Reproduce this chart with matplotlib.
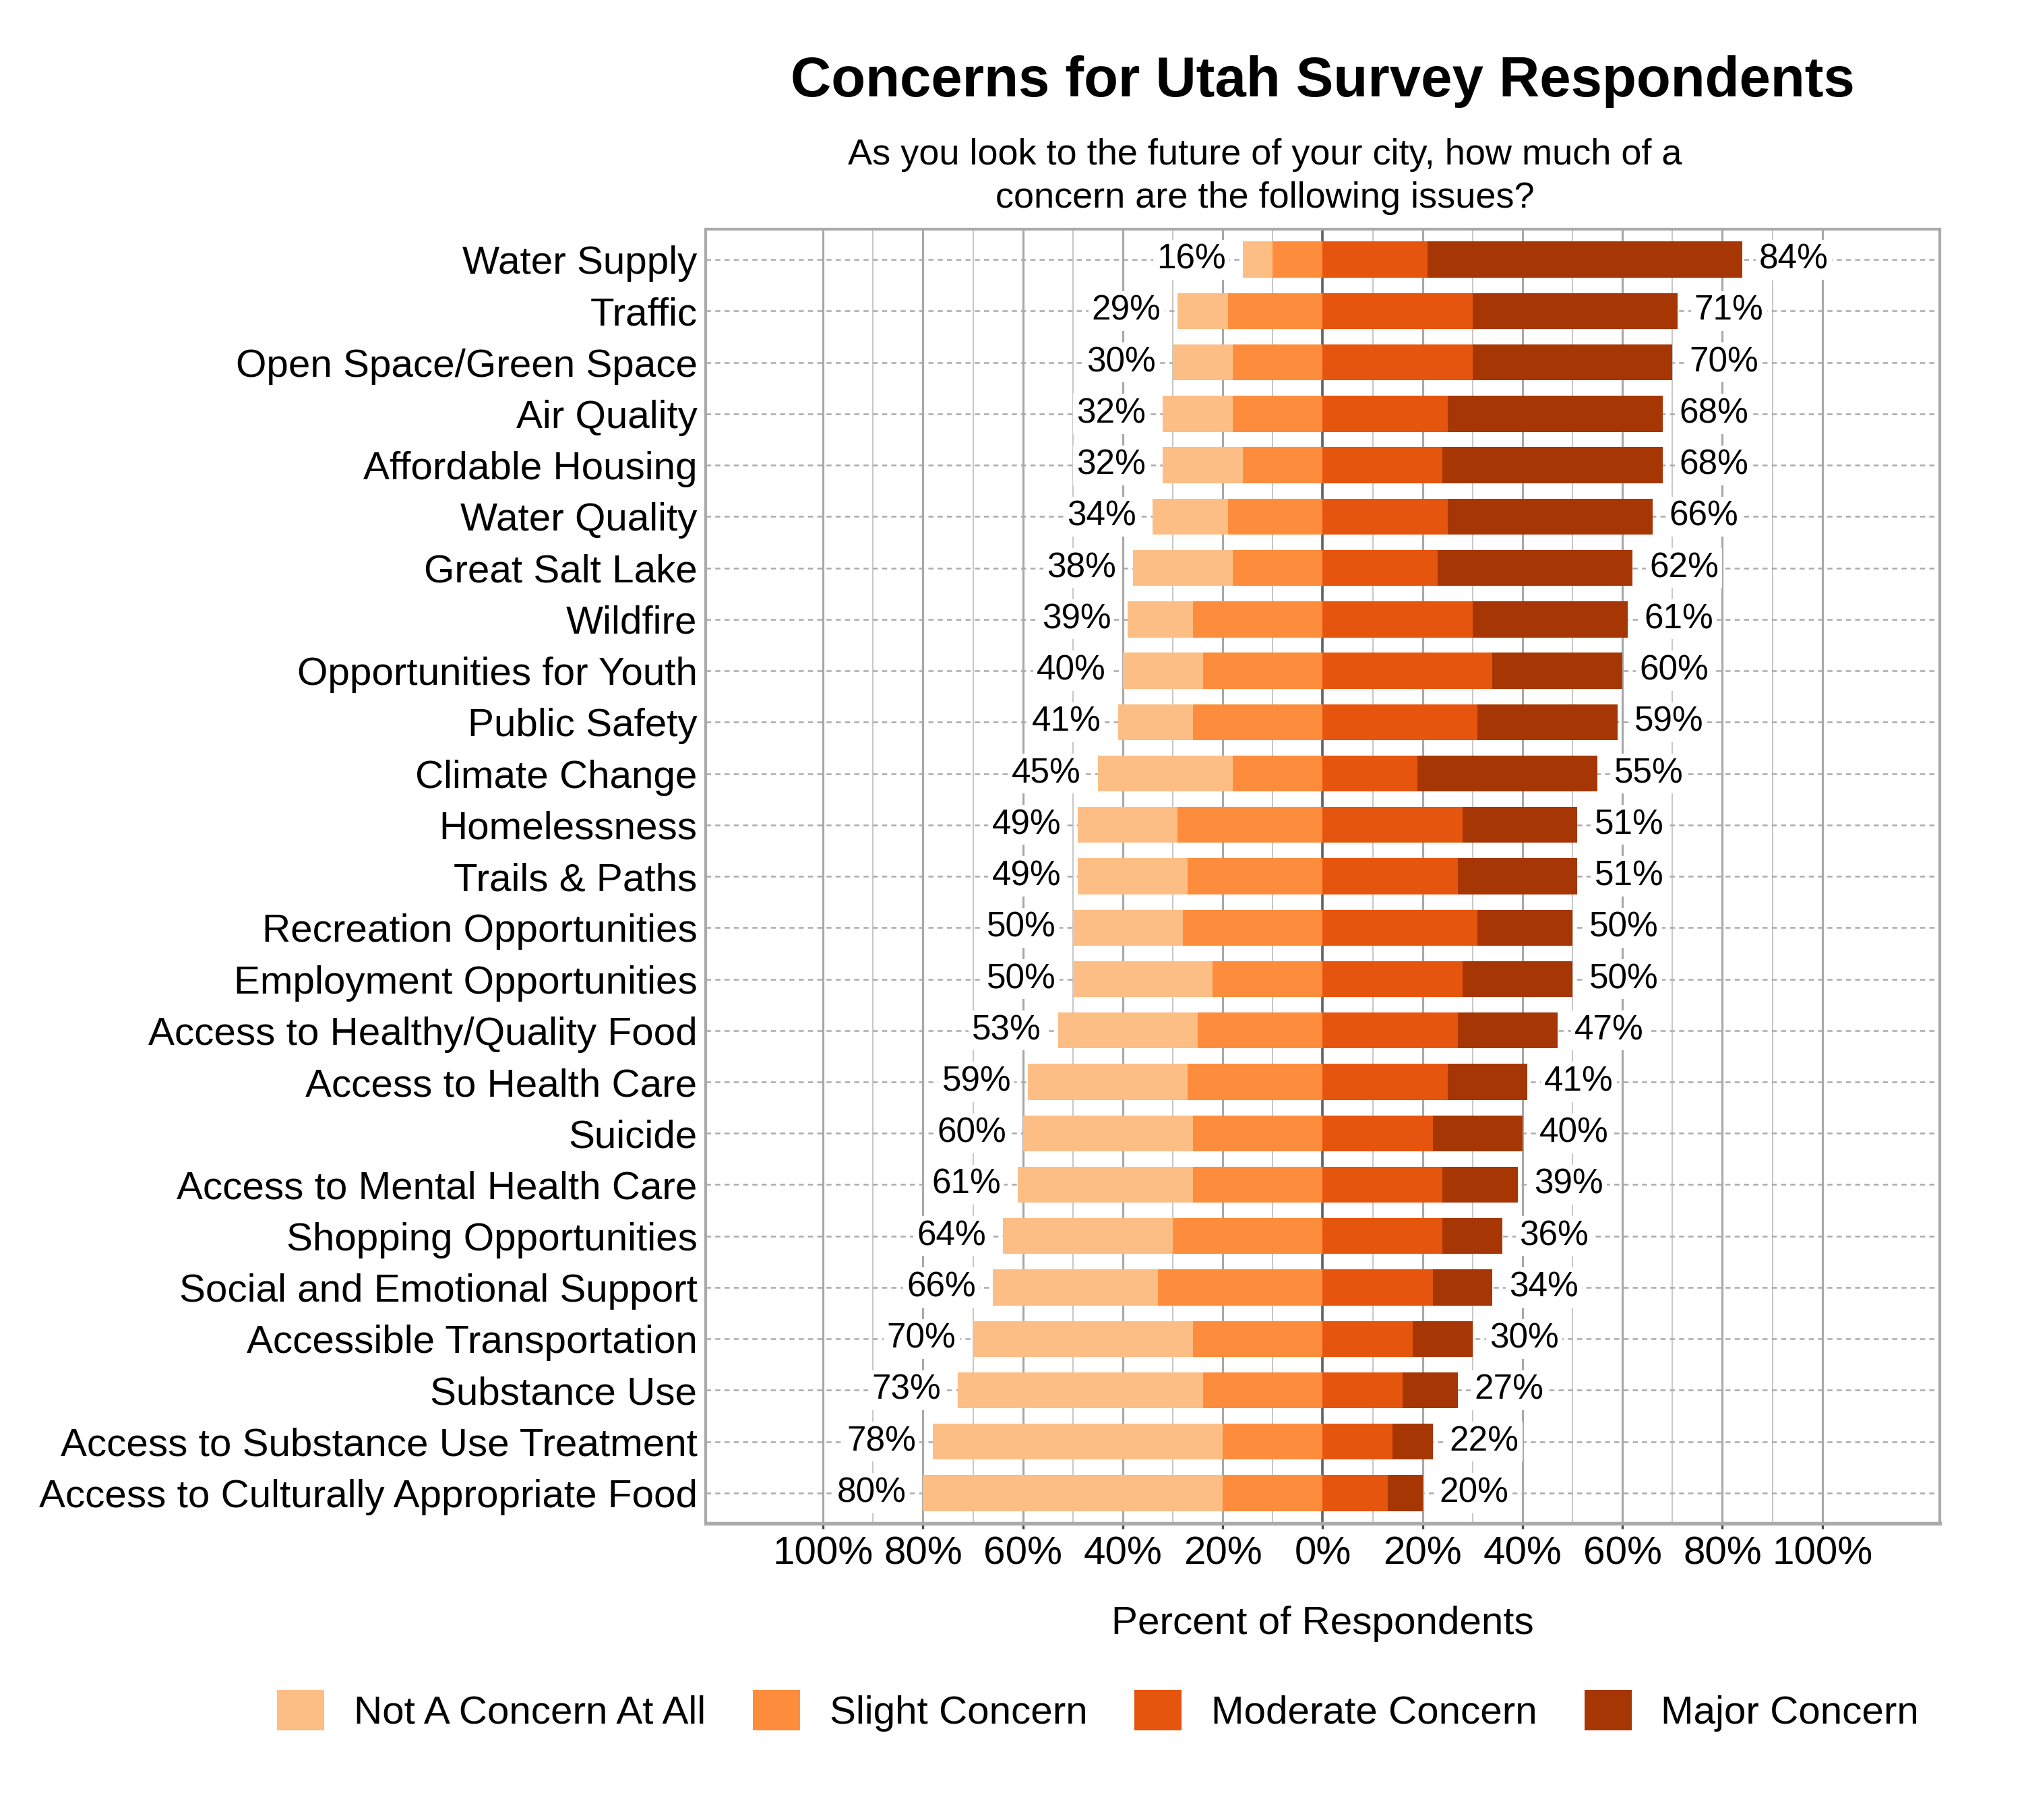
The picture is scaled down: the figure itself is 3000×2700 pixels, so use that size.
import numpy as np
import matplotlib.pyplot as plt
from matplotlib.patches import Patch

plt.rcParams['font.family'] = ['Liberation Sans', 'DejaVu Sans']

# data (percent of respondents)
categories = ["Water Supply", "Traffic", "Open Space/Green Space", "Air Quality",
              "Affordable Housing", "Water Quality", "Great Salt Lake", "Wildfire",
              "Opportunities for Youth", "Public Safety", "Climate Change",
              "Homelessness", "Trails & Paths", "Recreation Opportunities",
              "Employment Opportunities", "Access to Healthy/Quality Food",
              "Access to Health Care", "Suicide", "Access to Mental Health Care",
              "Shopping Opportunities", "Social and Emotional Support",
              "Accessible Transportation", "Substance Use",
              "Access to Substance Use Treatment", "Access to Culturally Appropriate Food"]
not_concern = [6, 10, 12, 14, 16, 15, 20, 13, 16, 15, 27, 20, 22, 22, 28, 28, 32, 34, 35, 34, 33, 44, 49, 58, 60]
slight = [10, 19, 18, 18, 16, 19, 18, 26, 24, 26, 18, 29, 27, 28, 22, 25, 27, 26, 26, 30, 33, 26, 24, 20, 20]
moderate = [21, 30, 30, 25, 24, 25, 23, 30, 34, 31, 19, 28, 27, 31, 28, 27, 25, 22, 24, 24, 22, 18, 16, 14, 13]
major = [63, 41, 40, 43, 44, 41, 39, 31, 26, 28, 36, 23, 24, 19, 22, 20, 16, 18, 15, 12, 12, 12, 11, 8, 7]

levels = ["Not A Concern At All", "Slight Concern", "Moderate Concern", "Major Concern"]
colors = ["#fdbe85", "#fd8d3c", "#e6550d", "#a63603"]

subtitle = ["As you look to the future of your city, how much of a",
            "concern are the following issues?"]

nc = np.array(not_concern)
sl = np.array(slight)
mo = np.array(moderate)
ma = np.array(major)
neg = nc + sl
pos = mo + ma

fig = plt.figure(figsize=(10, 9), dpi=300)
ax = fig.add_axes([0.349, 0.163, 0.6103, 0.711])

y = np.arange(len(categories))
h = 0.7

# grid
for v in range(-100, 101, 10):
    if v == 0:
        ax.axvline(v, color="#666666", lw=0.9, zorder=1)
    elif v % 20 == 0:
        ax.axvline(v, color="#a8a8a8", lw=0.75, zorder=1)
    else:
        ax.axvline(v, color="#c4c4c4", lw=0.45, zorder=1)
for yi in y:
    ax.axhline(yi, color="#aaaaaa", lw=0.6, dashes=(3, 2.5), zorder=1)

# bars
ax.barh(y, -sl, height=h, color=colors[1], zorder=3)
ax.barh(y, -nc, left=-sl, height=h, color=colors[0], zorder=3)
ax.barh(y, mo, height=h, color=colors[2], zorder=3)
ax.barh(y, ma, left=mo, height=h, color=colors[3], zorder=3)

box = dict(boxstyle="square,pad=0.1", fc="white", ec="none")
for i in range(len(categories)):
    ax.annotate(f"{neg[i]}%", (-neg[i], y[i]), xytext=(-6, 0), textcoords="offset points",
                ha="right", va="center", fontsize=12.3, bbox=box, zorder=5)
    ax.annotate(f"{pos[i]}%", (pos[i], y[i]), xytext=(6, 0), textcoords="offset points",
                ha="left", va="center", fontsize=12.3, bbox=box, zorder=5)

ax.set_xlim(-123.5, 123.5)
ax.set_ylim(len(categories) - 1 + 0.59, -0.59)

ticks = list(range(-100, 101, 20))
ax.set_xticks(ticks)
ax.set_xticklabels([f"{abs(t)}%" for t in ticks])
ax.set_yticks(y)
ax.set_yticklabels(categories)
ax.tick_params(axis="y", length=0, pad=3, labelsize=14)
ax.tick_params(axis="x", length=2, width=0.8, color="#444444", pad=2.4, labelsize=14)

for s in ax.spines.values():
    s.set_color("#aaaaaa")
    s.set_linewidth(1.0)
ax.spines["bottom"].set_linewidth(1.3)

ax.set_xlabel("Percent of Respondents", fontsize=14, labelpad=12)

fig.text(0.654, 0.947, "Concerns for Utah Survey Respondents", ha="center", va="baseline",
         fontsize=20, fontweight="bold")
fig.text(0.6257, 0.9096, subtitle[0], ha="center", va="baseline", fontsize=13)
fig.text(0.6257, 0.886, subtitle[1], ha="center", va="baseline", fontsize=13)

handles = [Patch(facecolor=c, edgecolor="none") for c in colors]
fig.legend(handles, levels, loc="center", bbox_to_anchor=(0.543, 0.06), ncol=4, frameon=False,
           fontsize=14, handlelength=1.2, handleheight=1.2, handletextpad=0.75,
           columnspacing=1.2, borderpad=0)

fig.savefig("out.png", dpi=300)
